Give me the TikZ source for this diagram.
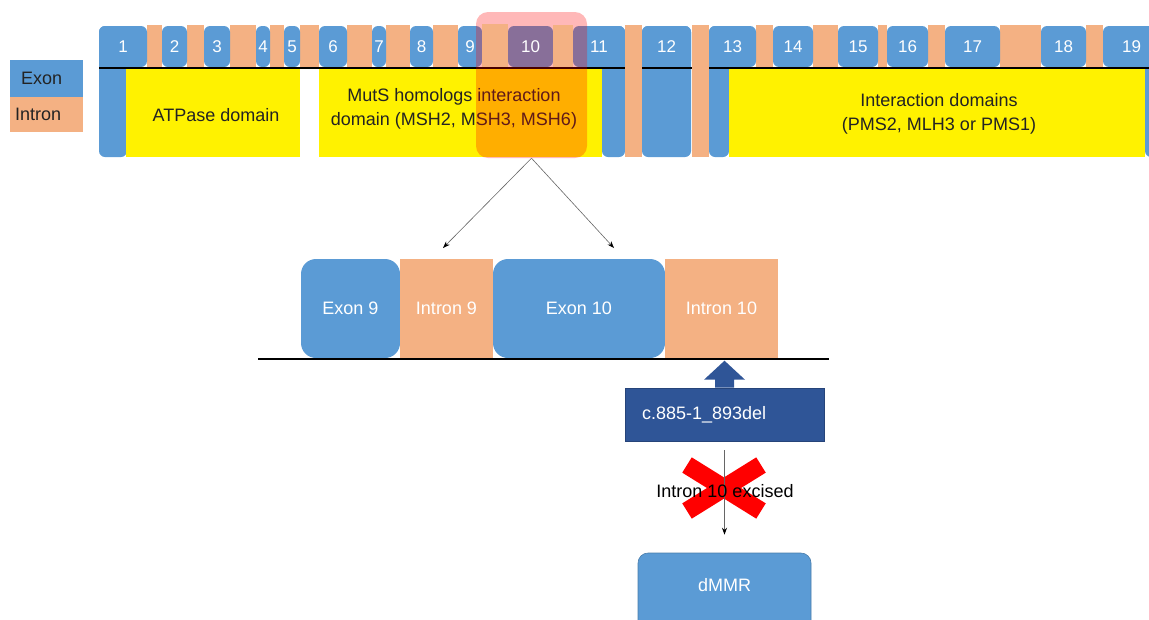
\documentclass[tikz,border=0pt]{standalone}
\usepackage{fontspec}
\setmainfont{Liberation Sans}
\usetikzlibrary{arrows.meta}
\definecolor{exonblue}{RGB}{91,155,213}
\definecolor{intronor}{RGB}{244,177,131}
\definecolor{mutblue}{RGB}{47,85,151}
\definecolor{txtgray}{RGB}{35,35,35}
\begin{document}
\begin{tikzpicture}[x=1pt,y=-1pt,
  every node/.style={font=\fontsize{18}{24}\selectfont,inner sep=0pt},
  exontop/.style={fill=exonblue,rounded corners=6pt,minimum height=41pt,text=white,font=\fontsize{17}{20}\selectfont},
  protbox/.style={fill=yellow,minimum height=88pt},
  hilite/.style={fill=red,fill opacity=.28,rounded corners=12pt},
  legbox/.style={minimum width=73pt,text width=73pt,align=left,text=txtgray},
  bigexon/.style={fill=exonblue,rounded corners=15pt,minimum height=99pt,text=white},
  bigintron/.style={fill=intronor,minimum height=99pt,text=white},
  link/.style={draw=black!60,line width=.6pt,-{Stealth[length=7pt,width=5pt,color=black]}},
  redx/.style={draw=red,line width=18pt}]
\clip (0,0) rectangle (1149,619);
\node[legbox,fill=exonblue,minimum height=37pt] (legex) at (46.5,78.5) {\hspace*{11pt}Exon};
\node[legbox,fill=intronor,minimum height=35pt] (legin) at (46.5,114.5) {\hspace*{5pt}Intron};
\foreach \xa/\xb in {99/127,602/625,642/691,709/729,1145/1160}
  \fill[exonblue,rounded corners=6pt] (\xa,26) rectangle (\xb,157);
\foreach \xa/\xb in {147/162,187/204,230/256,270/284,300/319,347/372,386/410,433/458,756/773,813/838,878/887,928/945,1000/1041,1086/1103}
  \fill[intronor] (\xa,25) rectangle (\xb,67);
\foreach \xa/\xb/\n in {99/147/1,162/187/2,204/230/3,256/270/4,284/300/5,319/347/6,372/386/7,410/433/8,458/482/9,573/625/11,642/691/12,709/756/13,773/813/14,838/878/15,887/928/16,945/1000/17,1041/1086/18,1103/1160/19}
  \node[exontop,minimum width={\xb pt-\xa pt}] (ex\n) at ({(\xa+\xb)/2},46.5) {\n};
\fill[exonblue,rounded corners=6pt] (508,26) rectangle (553,67);
\draw[line width=2pt] (99,68) -- (1160,68);
\fill[intronor] (625,25) rectangle (642,157);
\fill[intronor] (692,25) rectangle (709,157);
\node[protbox,minimum width=174pt] (atp) at (213,113) {};
\node[protbox,minimum width=283pt] (muts) at (460.5,113) {};
\node[protbox,minimum width=416pt] (pms) at (937,113) {};
\node[text=txtgray] at (216,115) {ATPase domain};
\node[text=txtgray,align=center] at (454,109) {MutS homologs interaction\\domain (MSH2, MSH3, MSH6)};
\node[text=txtgray,align=center] at (939,114) {Interaction domains\\(PMS2, MLH3 or PMS1)};
\node[hilite,minimum width=111pt,minimum height=146pt] (hl) at (531.5,85) {};
\fill[intronor] (482,24) rectangle (508,67);
\fill[intronor] (553,25) rectangle (573,67);
\node[text=white,font=\fontsize{17}{20}\selectfont] (ex10) at (530.5,46.5) {10};
\coordinate (a9) at (443,248);
\coordinate (a10) at (614,248);
\draw[link] (hl.south) -- (a9);
\draw[link] (hl.south) -- (a10);
\node[bigexon,minimum width=99pt] (ex9b) at (350.5,308.5) {Exon 9};
\node[bigintron,minimum width=93pt] (in9) at (446.5,308.5) {Intron 9};
\node[bigexon,minimum width=172pt] (ex10b) at (579,308.5) {Exon 10};
\node[bigintron,minimum width=113pt] (in10) at (721.5,308.5) {Intron 10};
\draw[line width=2.5pt] (258,359) -- (829,359);
\node[fill=mutblue,draw=mutblue!80!black,line width=.6pt,minimum height=53pt,text width=165pt,inner xsep=17pt,align=left,text=white] (mut) at (724.5,414.5) {c.885-1\_893del};
\fill[mutblue] ([xshift=-9.5pt]mut.north) -- ++(0,-8) -- ++(-11,0) -- ++(20.5,-19) -- ++(20.5,19) -- ++(-11,0) -- ++(0,8) -- cycle;
\node[fill=exonblue,draw=exonblue!80!black,line width=.6pt,rounded corners=10pt,minimum width=173pt,minimum height=80pt] (dmmr) at (724.5,593) {};
\node[text=white] at ([yshift=8pt]dmmr.center) {dMMR};
\draw[redx] (687,465) -- (761,511);
\draw[redx] (687,511) -- (761,465);
\draw[link] ([yshift=-9pt]mut.south) -- ([yshift=18pt]dmmr.north);
\node (exc) at (725,491) {Intron 10 excised};
\end{tikzpicture}
\end{document}
